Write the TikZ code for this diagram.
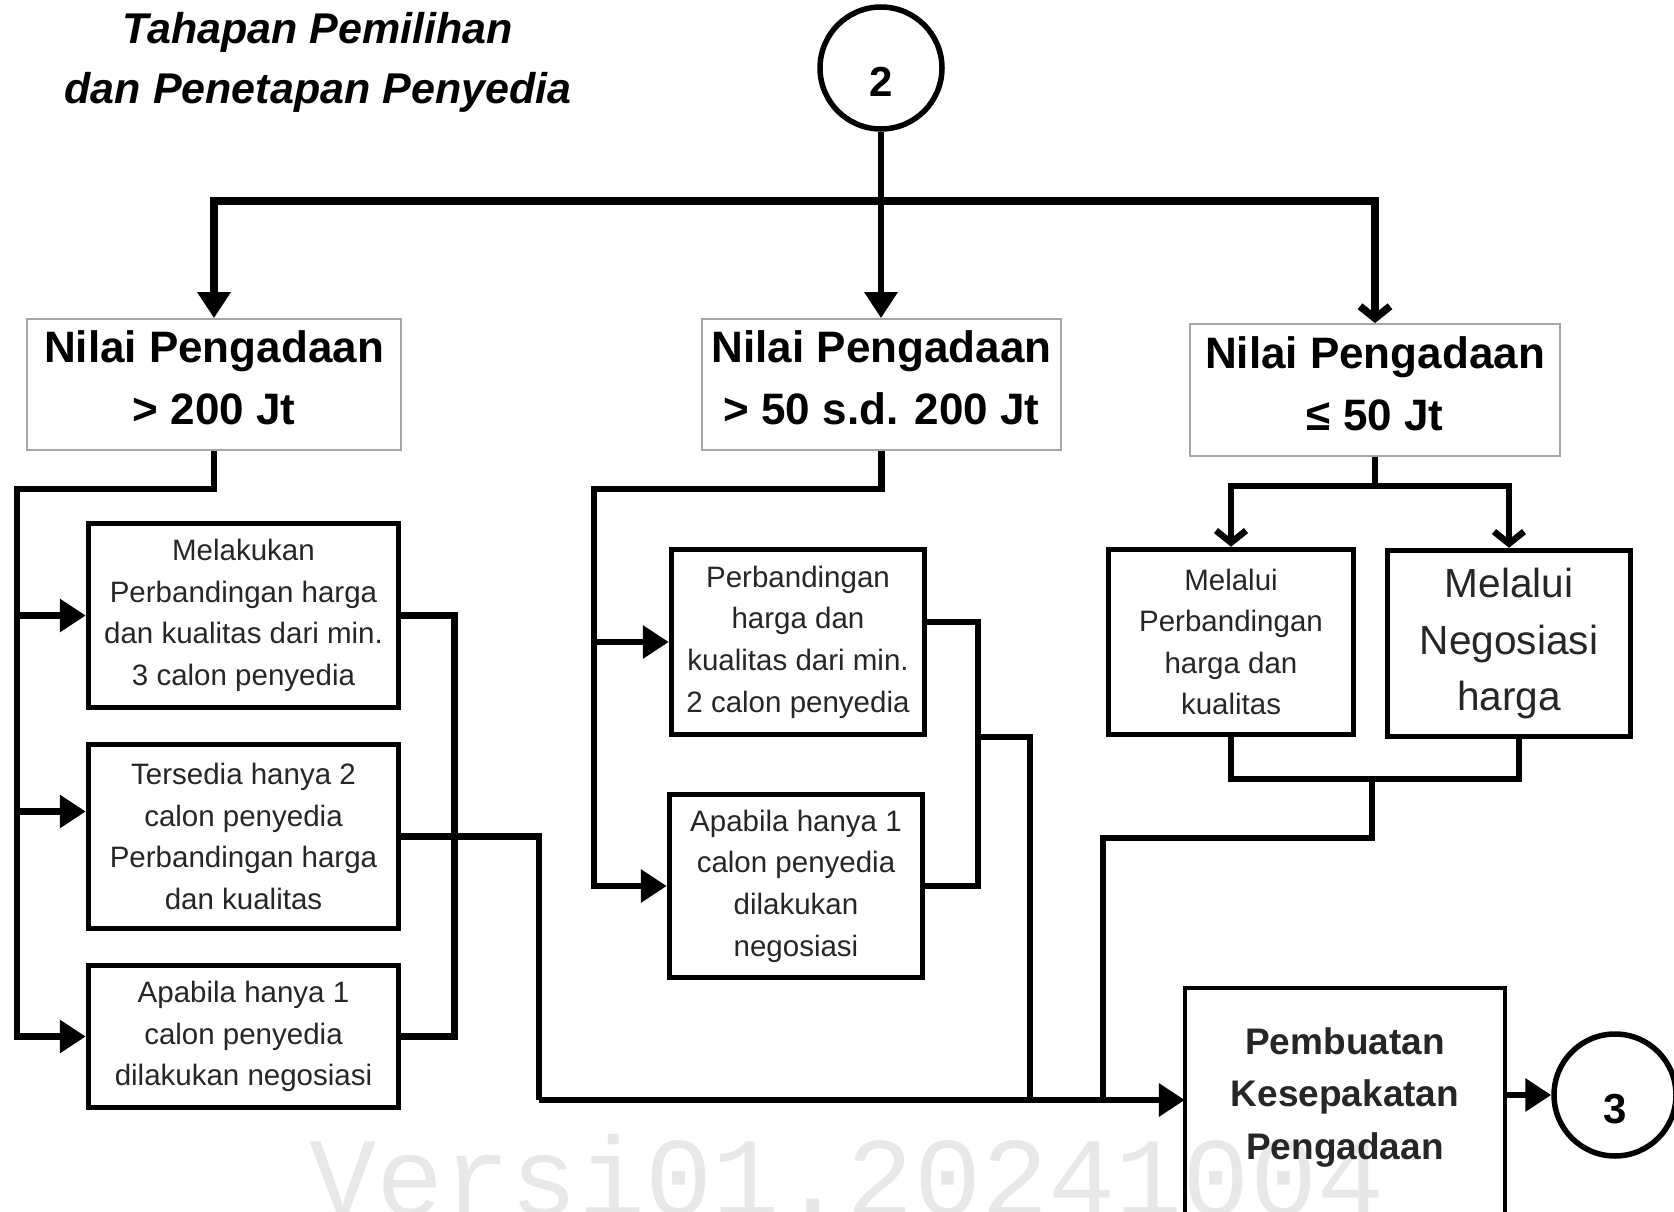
\documentclass[tikz,border=0pt]{standalone}
\usepackage{fontspec}
\setmainfont{Liberation Sans}
\newfontfamily\wmfont{Liberation Mono}
\usetikzlibrary{arrows.meta}

\begin{document}
\begin{tikzpicture}[x=1pt,y=1pt]
    \tikzstyle{every node}+=[inner sep=0pt]
    \tikzstyle{topbox}=[draw=gray!70, line width=1.8pt, align=center, text=black, text depth=13pt, font=\fontsize{44}{62}\selectfont\bfseries]
    \tikzstyle{subbox}=[draw=black, line width=5.5pt, align=center, text=black!85, font=\fontsize{29.5}{41.6}\selectfont]
    \tikzstyle{terminal}=[circle, draw=black, line width=5.5pt, minimum size=122pt, text height=57pt, text depth=0pt, font=\fontsize{42}{42}\selectfont\bfseries]
    \tikzstyle{connector}=[black, line width=6.5pt]
    \tikzstyle{arr}=[connector, -{Triangle[length=26pt,width=32pt]}]
    \tikzstyle{openarr}=[connector, -{Straight Barb[length=12pt,width=30pt]}]
    \tikzstyle{bar}=[line width=7.5pt]
    \useasboundingbox (0,0) rectangle (1674,-1212);
    \clip (0,0) rectangle (1674,-1212);

    \node (wm) at (309,-1215) [anchor=base west, text=gray!18, font=\fontsize{112}{112}\selectfont\wmfont] {Versi01.20241004};

    \node (title) at (318,-62) [align=center, font=\fontsize{43}{60}\selectfont\bfseries\itshape] {Tahapan Pemilihan\\dan Penetapan Penyedia};

    \node (c2) at (881,-68) [terminal] {2};
    \node (c3) at (1615,-1095) [terminal] {3};

    \node (A) at (214,-384.5) [topbox, minimum width=374pt, minimum height=131pt] {Nilai Pengadaan\\> 200 Jt};
    \node (B) at (881.5,-384.5) [topbox, minimum width=359pt, minimum height=131pt] {Nilai Pengadaan\\> 50 s.d. 200 Jt};
    \node (C) at (1375,-390) [topbox, minimum width=370pt, minimum height=132pt] {Nilai Pengadaan\\≤ 50 Jt};

    \node (L1) at (243.5,-615.5) [subbox, minimum width=310pt, minimum height=184pt] {Melakukan\\Perbandingan harga\\dan kualitas dari min.\\3 calon penyedia};
    \node (L2) at (243.5,-836.5) [subbox, minimum width=310pt, minimum height=184pt] {Tersedia hanya 2\\calon penyedia\\Perbandingan harga\\dan kualitas};
    \node (L3) at (243.5,-1036.5) [subbox, minimum width=310pt, minimum height=142pt] {Apabila hanya 1\\calon penyedia\\dilakukan negosiasi};

    \node (M1) at (798,-642) [subbox, minimum width=253pt, minimum height=185pt] {Perbandingan\\harga dan\\kualitas dari min.\\2 calon penyedia};
    \node (M2) at (796,-886) [subbox, minimum width=253pt, minimum height=183pt] {Apabila hanya 1\\calon penyedia\\dilakukan\\negosiasi};

    \node (R1) at (1231,-642) [subbox, minimum width=245pt, minimum height=185pt] {Melalui\\Perbandingan\\harga dan\\kualitas};
    \node (R2) at (1509,-643.5) [subbox, minimum width=243pt, minimum height=186pt, font=\fontsize{40.6}{56.6}\selectfont] {Melalui\\Negosiasi\\harga};

    \node (F) at (1345,-1097.5) [align=center, text=black!85, minimum width=320pt, minimum height=219pt, font=\fontsize{37}{52.3}\selectfont\bfseries] {Pembuatan\\Kesepakatan\\Pengadaan};
    \draw [black, line width=3.5pt] ([yshift=-40pt]F.south west) |- (F.north east) -- ([yshift=-40pt]F.south east);

    \coordinate (bar) at (881,-201);
    \draw [arr] (c2.south) -- (c2.south |- B.north);
    \draw [arr, bar] (bar) -| (A.north);
    \draw [openarr, bar] (bar) -| (C.north);

    \coordinate (lf) at (17,-489);
    \coordinate (l2in) at ([yshift=25pt]L2.west);
    \draw [arr] (A.south) |- (lf) |- (L3.west);
    \draw [arr] (lf |- L1.west) -- (L1.west);
    \draw [arr] (lf |- l2in) -- (l2in);
    \draw [connector] (L1.east) -- ++(53,0) |- (L3.east);
    \coordinate (jl) at (539,-1100);
    \draw [connector] (L2.east) -| (jl);

    \coordinate (mf) at (594,-489);
    \draw [arr] (B.south) |- (mf) |- (M2.west);
    \draw [arr] (mf |- M1.west) -- (M1.west);
    \coordinate (m1out) at ([yshift=20pt]M1.east);
    \coordinate (mb) at (978,-737);
    \draw [connector] (m1out) -| (mb) |- (M2.east);
    \coordinate (jm) at (1030,-1100);
    \draw [connector] (mb) -| (jm);

    \coordinate (rc) at (1375,-486);
    \draw [connector] (C.south) -- (rc);
    \draw [openarr] (rc) -| (R1.north);
    \draw [openarr] (rc) -| (R2.north);
    \coordinate (rm) at (1372,-779);
    \draw [connector] (R1.south) |- (rm) -| ([xshift=10pt]R2.south);
    \coordinate (jr) at (1103,-1100);
    \draw [connector] (rm) -- ++(0,-59) -| (jr);

    \draw [arr] (jl) -- (F.west |- jl);
    \draw [arr] (F.east |- c3) -- (c3);
\end{tikzpicture}
\end{document}
